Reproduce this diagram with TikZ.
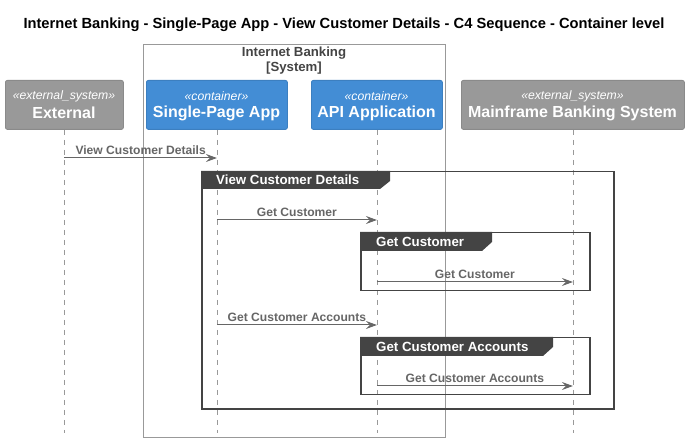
\documentclass[tikz,border=0pt]{standalone}
\usepackage{fontspec}
\setmainfont{Liberation Sans}
\usetikzlibrary{arrows.meta}
\definecolor{extgray}{HTML}{999999}
\definecolor{extborder}{HTML}{8A8A8A}
\definecolor{contblue}{HTML}{438DD5}
\definecolor{contborder}{HTML}{3C7FC0}
\definecolor{msggray}{HTML}{666666}
\definecolor{grpdark}{HTML}{444444}
\definecolor{lifegray}{HTML}{999999}
\definecolor{bndgray}{HTML}{999999}
\newcommand{\myfs}[1]{\fontsize{#1}{#1}\selectfont}
\tikzset{
  participant/.style={draw, rounded corners=2pt, minimum height=49pt, inner sep=0pt, anchor=north west, line width=0.8pt},
  extbox/.style={participant, fill=extgray, draw=extborder},
  contbox/.style={participant, fill=contblue, draw=contborder},
  stereo/.style={font=\myfs{12.2}\itshape, text=white, inner sep=0pt},
  ptitle/.style={font=\myfs{16}\bfseries, text=white, inner sep=0pt},
  lifeline/.style={draw=lifegray, line width=0.8pt, dash pattern=on 5pt off 5pt},
  msg/.style={draw=msggray, line width=1pt, -{Stealth[length=11pt,width=8pt,inset=4pt]}},
  msglabel/.style={above, font=\myfs{12.1}\bfseries, text=msggray, inner sep=1pt, yshift=2pt},
  grpframe/.style={draw=grpdark, line width=1.5pt, anchor=north west, inner sep=0pt},
  grphead/.style={fill=grpdark},
  grptext/.style={anchor=west, font=\myfs{13.3}\bfseries, text=white, inner sep=0pt},
  boundary/.style={draw=bndgray, line width=1pt, anchor=north west, inner sep=0pt},
  bndlabel/.style={font=\myfs{13.2}\bfseries, text=grpdark, inner sep=0pt}
}
\begin{document}
\begin{tikzpicture}[x=1pt,y=-1pt]
\useasboundingbox (0,0) rectangle (688,443);
\node[font=\myfs{14.7}\bfseries, inner sep=0pt] (title) at (344,25) {Internet Banking - Single-Page App - View Customer Details - C4 Sequence - Container level};

% system boundary
\node[boundary, minimum width=302pt, minimum height=393pt] (bnd) at (143,44) {};
\node[bndlabel] (bndname) at (294,53) {Internet Banking};
\node[bndlabel] (bndtype) at (294,68) {[System]};

% participants
\node[extbox, minimum width=118pt] (ext) at (5,80) {};
\node[contbox, minimum width=141pt] (spa) at (146,80) {};
\node[contbox, minimum width=131pt] (api) at (311,80) {};
\node[extbox, minimum width=223pt] (mf) at (461,80) {};

\node[stereo] (exts) at (64,96) {«external\_system»};
\node[ptitle] (extt) at (64,113) {External};
\node[stereo] (spas) at (216.5,96) {«container»};
\node[ptitle] (spat) at (216.5,113) {Single-Page App};
\node[stereo] (apis) at (376.5,96) {«container»};
\node[ptitle] (apit) at (376.5,113) {API Application};
\node[stereo] (mfs) at (572.5,96) {«external\_system»};
\node[ptitle] (mft) at (572.5,113) {Mainframe Banking System};

% lifelines
\coordinate (lifeend) at (0,433);
\draw[lifeline] (ext.south) -- (ext.south |- lifeend);
\draw[lifeline] (spa.south) -- (spa.south |- lifeend);
\draw[lifeline] (api.south) -- (api.south |- lifeend);
\draw[lifeline] (mf.south) -- (mf.south |- lifeend);

% groups
\node[grpframe, minimum width=412pt, minimum height=237pt] (g1) at (201,171) {};
\fill[grphead] (201,171) -- (390,171) -- (390,181) -- (380,189) -- (201,189) -- cycle;
\node[grptext] (g1t) at (216,180) {View Customer Details};

\node[grpframe, minimum width=229pt, minimum height=58pt] (g2) at (360,232) {};
\fill[grphead] (360,232) -- (492,232) -- (492,242) -- (482,251) -- (360,251) -- cycle;
\node[grptext] (g2t) at (376,242) {Get Customer};

\node[grpframe, minimum width=229pt, minimum height=57pt] (g3) at (360,337) {};
\fill[grphead] (360,337) -- (553,337) -- (553,347) -- (543,356) -- (360,356) -- cycle;
\node[grptext] (g3t) at (376,347) {Get Customer Accounts};

% messages
\coordinate (m1) at (0,158);
\coordinate (m2) at (0,220);
\coordinate (m3) at (0,282);
\coordinate (m4) at (0,325);
\coordinate (m5) at (0,386);
\draw[msg] (ext.south |- m1) -- node[msglabel] (l1) {View Customer Details} (spa.south |- m1);
\draw[msg] (spa.south |- m2) -- node[msglabel] (l2) {Get Customer} (api.south |- m2);
\draw[msg] (api.south |- m3) -- node[msglabel] (l3) {Get Customer} (mf.south |- m3);
\draw[msg] (spa.south |- m4) -- node[msglabel] (l4) {Get Customer Accounts} (api.south |- m4);
\draw[msg] (api.south |- m5) -- node[msglabel] (l5) {Get Customer Accounts} (mf.south |- m5);
\end{tikzpicture}
\end{document}
